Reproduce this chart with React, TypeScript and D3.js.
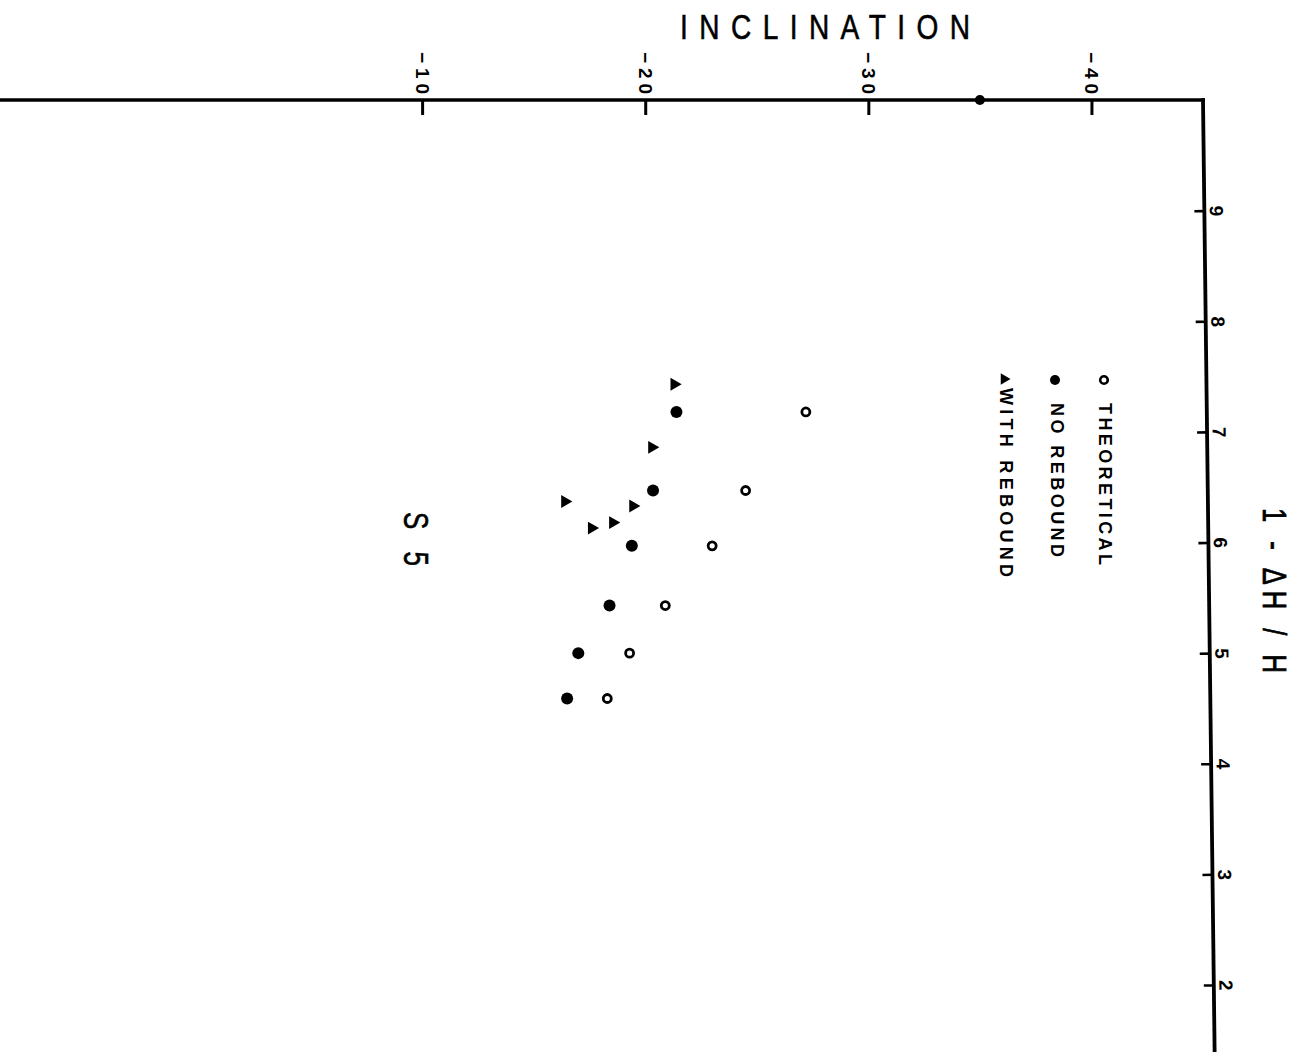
import React, { useEffect, useRef } from "react";
import * as d3 from "d3";

// Axis ticks
const inclinationTicks = [-10, -20, -30, -40];
const ratioTicks = [0.9, 0.8, 0.7, 0.6, 0.5, 0.4, 0.3, 0.2];
const ratioTickLabels = ["9", "8", "7", "6", "5", "4", "3", "2"];

// Theoretical inclination vs. 1 - ΔH/H
const theoreticalInclination = [-27.2, -24.5, -23.0, -20.9, -19.3, -18.3];
const theoreticalRatio = [0.718, 0.647, 0.597, 0.543, 0.5, 0.459];

// Measured, no rebound
const noReboundInclination = [-21.4, -20.35, -19.4, -18.4, -17.0, -16.5];
const noReboundRatio = [0.718, 0.647, 0.597, 0.543, 0.5, 0.459];

// Measured, with rebound
const withReboundInclination = [-21.3, -20.3, -16.4, -19.45, -18.55, -17.6];
const withReboundRatio = [0.743, 0.686, 0.637, 0.633, 0.618, 0.613];

// Initial inclination at 1 - ΔH/H = 1
const initialInclination = -35.0;
const initialRatio = 1.0;

const W = 1300;
const H = 1061;
const FONT = "'Liberation Sans', Arial, Helvetica, sans-serif";

const x = d3.scaleLinear().domain([0, -45]).range([199, 1203]);
const y = d3.scaleLinear().domain([1, 0.2]).range([100, 985]);

const triPath = d3.symbol().type(d3.symbolTriangle).size(72)() as string;
const legendTriPath = d3.symbol().type(d3.symbolTriangle).size(55)() as string;

export default function App() {
  const topAxisRef = useRef<SVGGElement>(null);
  const rightAxisRef = useRef<SVGGElement>(null);

  useEffect(() => {
    const top = d3.select(topAxisRef.current);
    top.selectAll("*").remove();
    top
      .attr("transform", `translate(0,${y(1)})`)
      .call(
        d3
          .axisTop(x)
          .tickValues(inclinationTicks)
          .tickSizeInner(-15)
          .tickSizeOuter(0)
          .tickFormat((d) => "\u2212" + Math.abs(d as number))
      );
    top.select(".domain").remove();
    top.selectAll(".tick line").attr("stroke", "#000").attr("stroke-width", 3);
    top
      .selectAll(".tick text")
      .attr("x", 0)
      .attr("y", 0)
      .attr("dy", null)
      .attr("transform", "translate(0,-6) rotate(90)")
      .attr("text-anchor", "end")
      .attr("dominant-baseline", "central")
      .style("font-family", FONT)
      .style("font-size", "19px")
      .style("font-weight", "bold")
      .attr("textLength", 42)
      .attr("lengthAdjust", "spacing")
      .attr("fill", "#000");

    const right = d3.select(rightAxisRef.current);
    right.selectAll("*").remove();
    right
      .attr("transform", `translate(${x(-45)},0)`)
      .call(
        d3
          .axisRight(y)
          .tickValues(ratioTicks)
          .tickSizeInner(-10)
          .tickSizeOuter(0)
          .tickFormat((_, i) => ratioTickLabels[i])
      );
    right.select(".domain").remove();
    right.selectAll(".tick line").attr("stroke", "#000").attr("stroke-width", 2.6);
    right
      .selectAll(".tick text")
      .attr("x", 0)
      .attr("y", 0)
      .attr("dy", null)
      .attr("transform", "translate(12,0) rotate(90)")
      .attr("text-anchor", "middle")
      .attr("dominant-baseline", "central")
      .style("font-family", FONT)
      .style("font-size", "19px")
      .style("font-weight", "bold")
      .attr("fill", "#000");
  }, []);

  const x0 = x(-45);
  const yTop = y(1);

  return (
    <svg
      width={W}
      height={H}
      viewBox={`0 0 ${W} ${H}`}
      style={{ position: "absolute", left: 0, top: 0, background: "#fff" }}
      fontFamily={FONT}
    >
      <rect width={W} height={H} fill="#fff" />

      {/* top (inclination) axis line */}
      <line x1={0} y1={yTop} x2={x0 + 2} y2={yTop} stroke="#000" strokeWidth={3.5} />
      <g ref={topAxisRef} />

      {/* right (1 - ΔH/H) axis, slightly skewed as drawn */}
      <g transform={`rotate(-0.7, ${x0}, ${yTop})`}>
        <line x1={x0} y1={yTop - 1.7} x2={x0} y2={1052} stroke="#000" strokeWidth={3.8} />
        <g ref={rightAxisRef} />
      </g>

      {/* title */}
      <text
        transform="translate(825,39) scale(0.78,1)"
        textAnchor="middle"
        fontSize={36}
        textLength={290 / 0.78}
        lengthAdjust="spacing"
        fill="#000"
        stroke="#000"
        strokeWidth={0.6}
      >
        INCLINATION
      </text>

      <text
        transform="translate(1275,508) rotate(90) scale(0.75,1)"
        dominantBaseline="central"
        fontSize={34}
        textLength={165 / 0.75}
        lengthAdjust="spacing"
        fill="#000"
        stroke="#000"
        strokeWidth={0.8}
      >
        1 - ΔH / H
      </text>

      <text
        transform="translate(416,512) rotate(90) scale(0.72,1)"
        dominantBaseline="central"
        fontSize={36}
        textLength={54 / 0.72}
        lengthAdjust="spacing"
        fill="#000"
        stroke="#000"
        strokeWidth={0.6}
      >
        S 5
      </text>

      {/* legend */}
      <circle cx={1104} cy={380} r={3.8} fill="#fff" stroke="#000" strokeWidth={2.6} />
      <text
        transform="translate(1105,403) rotate(90)"
        dominantBaseline="central"
        fontSize={18}
        fontWeight="bold"
        textLength={162}
        lengthAdjust="spacing"
        fill="#000"
      >
        THEORETICAL
      </text>
      <circle cx={1055} cy={380} r={5} fill="#000" />
      <text
        transform="translate(1057,403) rotate(90)"
        dominantBaseline="central"
        fontSize={18}
        fontWeight="bold"
        textLength={154}
        lengthAdjust="spacing"
        fill="#000"
      >
        NO REBOUND
      </text>
      <path d={legendTriPath} transform="translate(1004,379) rotate(90)" fill="#000" />
      <text
        transform="translate(1006,388) rotate(90)"
        dominantBaseline="central"
        fontSize={18}
        fontWeight="bold"
        textLength={189}
        lengthAdjust="spacing"
        fill="#000"
      >
        WITH REBOUND
      </text>

      {/* data */}
      <circle cx={x(initialInclination)} cy={y(initialRatio)} r={5} fill="#000" />

      {theoreticalInclination.map((v, i) => (
        <circle
          key={`t${i}`}
          cx={x(v)}
          cy={y(theoreticalRatio[i])}
          r={4}
          fill="#fff"
          stroke="#000"
          strokeWidth={2.8}
        />
      ))}
      {noReboundInclination.map((v, i) => (
        <circle key={`n${i}`} cx={x(v)} cy={y(noReboundRatio[i])} r={6} fill="#000" />
      ))}
      {withReboundInclination.map((v, i) => (
        <path
          key={`w${i}`}
          d={triPath}
          transform={`translate(${x(v)},${y(withReboundRatio[i])}) rotate(90)`}
          fill="#000"
        />
      ))}
    </svg>
  );
}
